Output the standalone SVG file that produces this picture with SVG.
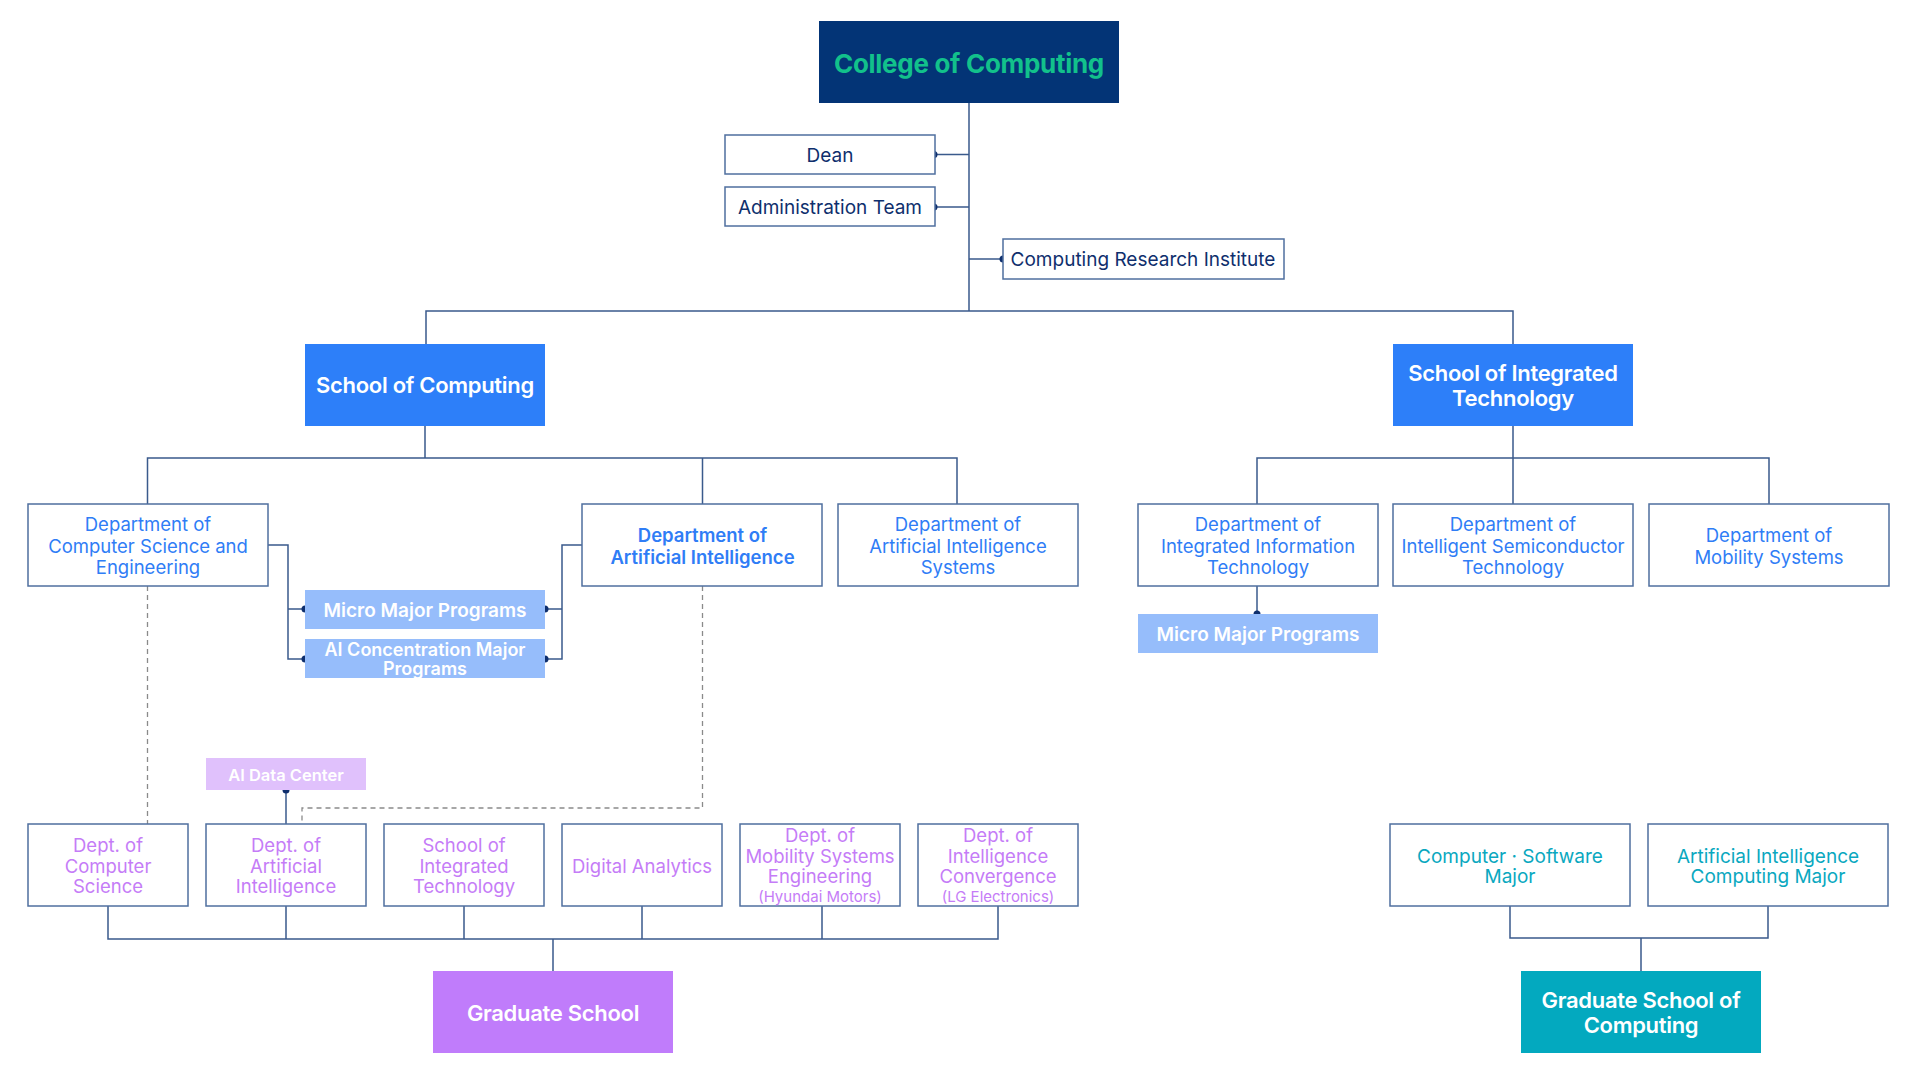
<svg xmlns="http://www.w3.org/2000/svg" width="1920" height="1080" viewBox="0 0 1920 1080">
<style>
text{font-family:"Inter","Noto Sans","Liberation Sans",sans-serif;text-anchor:middle;dominant-baseline:central;letter-spacing:0}
.big{letter-spacing:-0.3px}
.box{fill:#fff;stroke:#4f6f9f;stroke-width:1.5}
.navy{fill:#0f2f6d;font-size:19px}
.dept{fill:#2f7df6;font-size:18.5px}
.deptb{fill:#2f7df6;font-size:18.5px;font-weight:600}
.grad{fill:#c57cf7;font-size:18.5px}
.small{font-size:15px}
.teal{fill:#0aa8bf;font-size:19px}
.wt{fill:#fff;font-weight:600}
.ln{fill:none;stroke:#3a5a8c;stroke-width:1.5}
.dash{fill:none;stroke:#8a8a8a;stroke-width:1.3;stroke-dasharray:5 4}
.dot{fill:#0f2f6d}
</style>
<rect width="1920" height="1080" fill="#fff"/>
<g id="connectors">
<path class="ln" d="M969 103V311M934 154.5H969M934 207H969M969 259H1003M426 344V311H1513V344"/>
<path class="ln" d="M425 426V458M147.5 504V458H957V504M702.5 458V504"/>
<path class="ln" d="M1513 426V458M1257 504V458H1769V504M1513 458V504"/>
<path class="ln" d="M268 545H288V659H305M288 609H305M582 545H562V659H545M562 609H545"/>
<path class="ln" d="M1257 586V614"/>
<path class="dash" d="M147.5 586V824M702.5 586V808H302V824"/>
<path class="ln" d="M286 790V824"/>
<path class="ln" d="M108 906V939H998V906M286 906V939M464 906V939M642 906V939M822 906V939M553 939V971"/>
<path class="ln" d="M1510 906V938H1768V906M1641 938V971"/>
<circle class="dot" cx="934" cy="154.5" r="3.5"/>
<circle class="dot" cx="934" cy="207" r="3.5"/>
<circle class="dot" cx="1003" cy="259" r="3.5"/>
<circle class="dot" cx="305" cy="609" r="3.5"/>
<circle class="dot" cx="305" cy="659" r="3.5"/>
<circle class="dot" cx="545" cy="609" r="3.5"/>
<circle class="dot" cx="545" cy="659" r="3.5"/>
<circle class="dot" cx="1257" cy="614" r="3.5"/>
<circle class="dot" cx="286" cy="790" r="3.5"/>
</g>
<g id="college"><rect x="819" y="21" width="300" height="82" fill="#033476"/><text class="big" x="969" y="63" fill="#12c18b" font-size="26" font-weight="700">College of Computing</text></g>
<g id="dean"><rect class="box" x="725" y="135" width="210" height="39"/><text class="navy" x="830" y="155">Dean</text></g>
<g id="admin"><rect class="box" x="725" y="187" width="210" height="39"/><text class="navy" x="830" y="207.5">Administration Team</text></g>
<g id="cri"><rect class="box" x="1003" y="239" width="281" height="40"/><text class="navy" x="1143" y="259.5">Computing Research Institute</text></g>
<g id="soc"><rect x="305" y="344" width="240" height="82" fill="#2d7ff9"/><text class="wt big" x="425" y="385" font-size="22">School of Computing</text></g>
<g id="sit"><rect x="1393" y="344" width="240" height="82" fill="#2d7ff9"/><text class="wt big" x="1513" y="373" font-size="22">School of Integrated</text><text class="wt big" x="1513" y="398" font-size="22">Technology</text></g>
<g id="cse"><rect class="box" x="28" y="504" width="240" height="82"/><text class="dept" x="148" y="524">Department of</text><text class="dept" x="148" y="545.5">Computer Science and</text><text class="dept" x="148" y="567">Engineering</text></g>
<g id="dai"><rect class="box" x="582" y="504" width="240" height="82"/><text class="deptb" x="702.5" y="535">Department of</text><text class="deptb" x="702.5" y="556.5">Artificial Intelligence</text></g>
<g id="dais"><rect class="box" x="838" y="504" width="240" height="82"/><text class="dept" x="958" y="524">Department of</text><text class="dept" x="958" y="545.5">Artificial Intelligence</text><text class="dept" x="958" y="567">Systems</text></g>
<g id="micro1"><rect x="305" y="590" width="240" height="39" fill="#96bdfb"/><text class="wt" x="425" y="610" font-size="19">Micro Major Programs</text></g>
<g id="aicon"><rect x="305" y="639" width="240" height="39" fill="#96bdfb"/><text class="wt" x="425" y="649" font-size="18">AI Concentration Major</text><text class="wt" x="425" y="668.5" font-size="18">Programs</text></g>
<g id="iit"><rect class="box" x="1138" y="504" width="240" height="82"/><text class="dept" x="1258" y="524">Department of</text><text class="dept" x="1258" y="545.5">Integrated Information</text><text class="dept" x="1258" y="567">Technology</text></g>
<g id="ist"><rect class="box" x="1393" y="504" width="240" height="82"/><text class="dept" x="1513" y="524">Department of</text><text class="dept" x="1513" y="545.5">Intelligent Semiconductor</text><text class="dept" x="1513" y="567">Technology</text></g>
<g id="ms"><rect class="box" x="1649" y="504" width="240" height="82"/><text class="dept" x="1769" y="535">Department of</text><text class="dept" x="1769" y="556.5">Mobility Systems</text></g>
<g id="micro2"><rect x="1138" y="614" width="240" height="39" fill="#96bdfb"/><text class="wt" x="1258" y="634" font-size="19">Micro Major Programs</text></g>
<g id="aidc"><rect x="206" y="758" width="160" height="32" fill="#e0c1fc"/><text class="wt" x="286" y="774.5" font-size="16.5">AI Data Center</text></g>
<g id="gcs"><rect class="box" x="28" y="824" width="160" height="82"/><text class="grad" x="108" y="845">Dept. of</text><text class="grad" x="108" y="865.5">Computer</text><text class="grad" x="108" y="886">Science</text></g>
<g id="gai"><rect class="box" x="206" y="824" width="160" height="82"/><text class="grad" x="286" y="845">Dept. of</text><text class="grad" x="286" y="865.5">Artificial</text><text class="grad" x="286" y="886">Intelligence</text></g>
<g id="gsit"><rect class="box" x="384" y="824" width="160" height="82"/><text class="grad" x="464" y="845">School of</text><text class="grad" x="464" y="865.5">Integrated</text><text class="grad" x="464" y="886">Technology</text></g>
<g id="gda"><rect class="box" x="562" y="824" width="160" height="82"/><text class="grad" x="642" y="865.5">Digital Analytics</text></g>
<g id="gmse"><rect class="box" x="740" y="824" width="160" height="82"/><text class="grad" x="820" y="835">Dept. of</text><text class="grad" x="820" y="855.5">Mobility Systems</text><text class="grad" x="820" y="876">Engineering</text><text class="grad small" x="820" y="896">(Hyundai Motors)</text></g>
<g id="gic"><rect class="box" x="918" y="824" width="160" height="82"/><text class="grad" x="998" y="835">Dept. of</text><text class="grad" x="998" y="855.5">Intelligence</text><text class="grad" x="998" y="876">Convergence</text><text class="grad small" x="998" y="896">(LG Electronics)</text></g>
<g id="gradschool"><rect x="433" y="971" width="240" height="82" fill="#c07cfb"/><text class="wt big" x="553" y="1013" font-size="22">Graduate School</text></g>
<g id="csm"><rect class="box" x="1390" y="824" width="240" height="82"/><text class="teal" x="1510" y="856">Computer · Software</text><text class="teal" x="1510" y="876.5">Major</text></g>
<g id="aicm"><rect class="box" x="1648" y="824" width="240" height="82"/><text class="teal" x="1768" y="856">Artificial Intelligence</text><text class="teal" x="1768" y="876.5">Computing Major</text></g>
<g id="gsc"><rect x="1521" y="971" width="240" height="82" fill="#03a9bf"/><text class="wt big" x="1641" y="1000" font-size="22">Graduate School of</text><text class="wt big" x="1641" y="1025" font-size="22">Computing</text></g>
</svg>
